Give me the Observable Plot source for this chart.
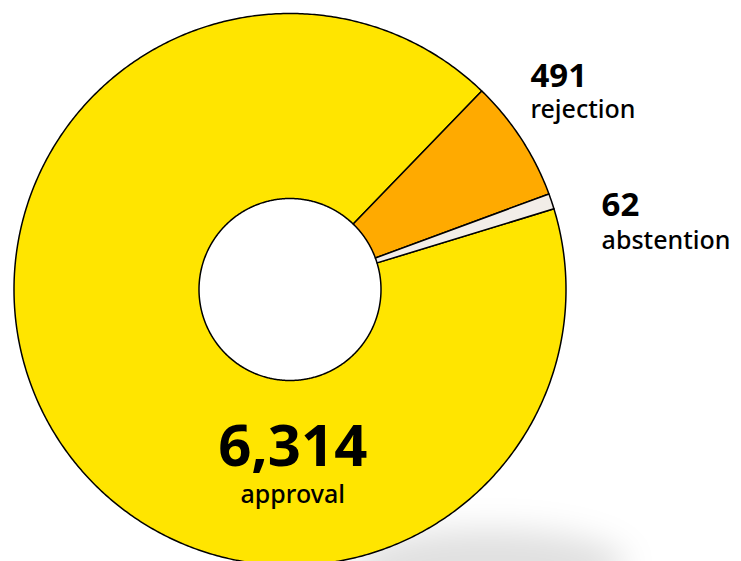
<!DOCTYPE html>
<html>
<head>
<meta charset="utf-8">
<script src="https://cdn.jsdelivr.net/npm/d3@7"></script>
<script src="https://cdn.jsdelivr.net/npm/@observablehq/plot@0.6"></script>
<style>
  html, body { margin: 0; padding: 0; background: #ffffff; }
  #chart { width: 741px; height: 561px; overflow: hidden; }
  svg { font-family: "Noto Sans", sans-serif; }
</style>
</head>
<body>
<div id="chart"></div>
<script>
// ---- data ----
const categories = ["approval", "rejection", "abstention"];
const votes = [6314, 491, 62];
const colors = ["#FFE500", "#FFAA00", "#F2EDE8"];

// ---- geometry (in units of the outer radius) ----
const W = 741, H = 561;
const R = 276;            // outer radius in px
const cx = 289.5, cy = 289; // centre in px
const innerRatio = 91 / 276;
const startDeg = 73;      // approval slice starts here (clockwise from 12 o'clock)

const pie = d3.pie().sort(null).value(d => d.value)
  .startAngle(startDeg * Math.PI / 180)
  .endAngle(startDeg * Math.PI / 180 + 2 * Math.PI);
const table = categories.map((c, i) => ({category: c, value: votes[i]}));
const arcs = pie(table);

// polygon outline of each ring segment
const ringPoints = [];
for (const a of arcs) {
  const n = Math.max(8, Math.ceil((a.endAngle - a.startAngle) / (Math.PI / 360)));
  const pts = [];
  for (let k = 0; k <= n; k++) {
    const t = a.startAngle + (a.endAngle - a.startAngle) * k / n;
    pts.push({category: a.data.category, x: Math.sin(t), y: Math.cos(t)});
  }
  for (let k = n; k >= 0; k--) {
    const t = a.startAngle + (a.endAngle - a.startAngle) * k / n;
    pts.push({category: a.data.category, x: innerRatio * Math.sin(t), y: innerRatio * Math.cos(t)});
  }
  pts.push({...pts[0]});
  ringPoints.push(...pts);
}

const fmt = d3.format(",");
// label anchor positions (outer-radius units)
const labelPos = {
  approval:   {x: 0.010, yNum: -0.638, yCat: -0.773},
  rejection:  {x: 0.871, yNum: 0.732,  yCat: 0.621},
  abstention: {x: 1.129, yNum: 0.268,  yCat: 0.145}
};
const labels = table.map(d => ({...d, ...labelPos[d.category]}));
const centerLabels = labels.filter(d => d.category === "approval");
const sideLabels = labels.filter(d => d.category !== "approval");

const xDomain = [-cx / R, (W - cx) / R];
const yDomain = [-(H - cy) / R, cy / R];

const plot = Plot.plot({
  width: W,
  height: H,
  margin: 0,
  x: {domain: xDomain, axis: null},
  y: {domain: yDomain, axis: null},
  color: {domain: categories, range: colors},
  marks: [
    Plot.line(ringPoints, {
      x: "x", y: "y", z: "category", fill: "category",
      stroke: "#000", strokeWidth: 1.5, strokeLinejoin: "round"
    }),
    Plot.text(centerLabels, {
      x: "x", y: "yNum", text: d => fmt(d.value), textAnchor: "middle", lineAnchor: "bottom",
      fontSize: 58, fontWeight: 700, fill: "#000"
    }),
    Plot.text(centerLabels, {
      x: "x", y: "yCat", text: "category", textAnchor: "middle", lineAnchor: "bottom",
      fontSize: 25, fontWeight: 500, fill: "#000"
    }),
    Plot.text(sideLabels, {
      x: "x", y: "yNum", text: d => fmt(d.value), textAnchor: "start", lineAnchor: "bottom",
      fontSize: 33, fontWeight: 700, fill: "#000"
    }),
    Plot.text(sideLabels, {
      x: "x", y: "yCat", text: "category", textAnchor: "start", lineAnchor: "bottom",
      fontSize: 25, fontWeight: 500, fill: "#000"
    })
  ]
});

// soft drop shadow beneath the ring (decoration)
const sx = plot.scale("x"), sy = plot.scale("y");
const ns = "http://www.w3.org/2000/svg";
const defs = document.createElementNS(ns, "defs");
defs.innerHTML = '<filter id="blurShadow" x="-50%" y="-50%" width="200%" height="200%"><feGaussianBlur stdDeviation="16"/></filter>';
const ell = document.createElementNS(ns, "ellipse");
ell.setAttribute("cx", sx.apply(0.72));
ell.setAttribute("cy", sy.apply(-1.0));
ell.setAttribute("rx", 0.5 * R);
ell.setAttribute("ry", 0.13 * R);
ell.setAttribute("fill", "#000");
ell.setAttribute("fill-opacity", "0.12");
ell.setAttribute("filter", "url(#blurShadow)");
plot.insertBefore(defs, plot.firstChild);
plot.insertBefore(ell, defs.nextSibling);

document.getElementById("chart").appendChild(plot);
</script>
</body>
</html>
